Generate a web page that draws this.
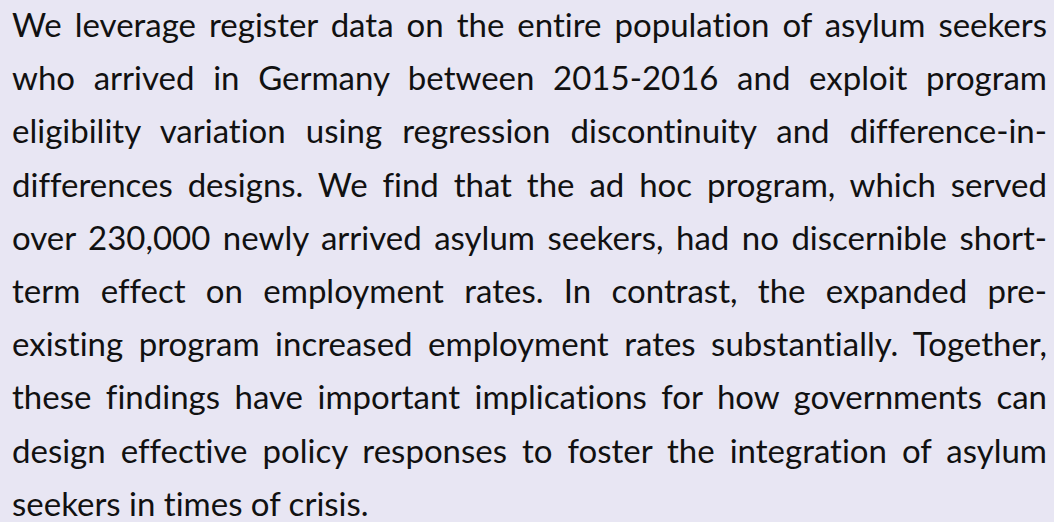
<!DOCTYPE html>
<html>
<head>
<meta charset="utf-8">
<script src="https://cdn.jsdelivr.net/npm/chart.js@4/dist/chart.umd.min.js"></script>
<style>
    html, body {
        margin: 0;
        padding: 0;
        width: 1054px;
        height: 522px;
        overflow: hidden;
        background: #e8e6f3;
    }
    #text {
        position: absolute;
        left: 12px;
        top: -2px;
        width: 1035px;
        font-family: Lato, "Noto Sans", sans-serif;
        font-size: 33px;
        line-height: 53.2px;
        color: #111;
        font-variant-ligatures: none;
        font-feature-settings: "liga" 0, "clig" 0, "dlig" 0;
    }
    .line {
        white-space: nowrap;
        text-align: justify;
        text-align-last: justify;
    }
    .line.last {
        text-align-last: left;
    }
</style>
</head>
<body>
<div id="text"></div>
<script>
// paragraph lines, broken where the reference breaks them
const lines = [
    'We leverage register data on the entire population of asylum seekers',
    'who arrived in Germany between 2015-2016 and exploit program',
    'eligibility variation using regression discontinuity and difference-in-',
    'differences designs. We find that the ad hoc program, which served',
    'over 230,000 newly arrived asylum seekers, had no discernible short-',
    'term effect on employment rates. In contrast, the expanded pre-',
    'existing program increased employment rates substantially. Together,',
    'these findings have important implications for how governments can',
    'design effective policy responses to foster the integration of asylum',
    'seekers in times of crisis.'
];

const box = document.getElementById('text');
lines.forEach((txt, i) => {
    const div = document.createElement('div');
    div.className = 'line' + (i === lines.length - 1 ? ' last' : '');
    div.textContent = txt;
    box.appendChild(div);
});
</script>
</body>
</html>
